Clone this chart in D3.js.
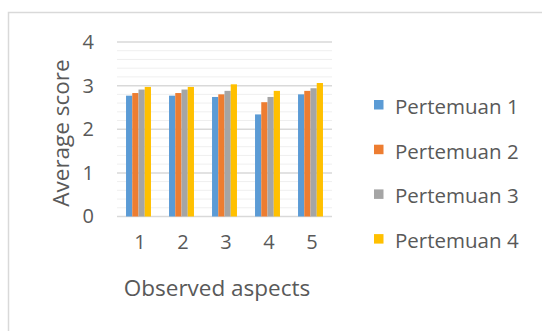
<!DOCTYPE html>
<html>
<head>
<meta charset="utf-8">
<script src="https://cdn.jsdelivr.net/npm/d3@7"></script>
<style>
  html, body { margin: 0; padding: 0; background: #fff; }
  svg { display: block; }
  text { font-family: "Open Sans", "Noto Sans", sans-serif; fill: #595959; }
</style>
</head>
<body>
<svg id="chart" width="542" height="331"></svg>
<script>
// Average observation score per aspect, for each meeting
const aspects = ["1", "2", "3", "4", "5"];
const seriesNames = ["Pertemuan 1", "Pertemuan 2", "Pertemuan 3", "Pertemuan 4"];
const pertemuan1 = [2.77, 2.77, 2.74, 2.34, 2.80];
const pertemuan2 = [2.83, 2.83, 2.80, 2.62, 2.88];
const pertemuan3 = [2.91, 2.91, 2.88, 2.74, 2.94];
const pertemuan4 = [2.97, 2.97, 3.03, 2.88, 3.06];
const yTicks = [0, 1, 2, 3, 4];
const colors = ["#5b9bd5", "#ed7d31", "#a5a5a5", "#ffc000"];

const seriesValues = [pertemuan1, pertemuan2, pertemuan3, pertemuan4];

const svg = d3.select("#chart");

// Outer chart frame
svg.append("rect")
  .attr("x", 8.5).attr("y", 12.5)
  .attr("width", 560).attr("height", 340)
  .attr("fill", "#fff")
  .attr("stroke", "#d9d9d9")
  .attr("stroke-width", 1.5);

const plot = { left: 117, right: 332, top: 42, bottom: 216.5 };

const x = d3.scaleBand()
  .domain(aspects)
  .range([plot.left, plot.right])
  .paddingInner(0.42)
  .paddingOuter(0.21);

const x1 = d3.scaleBand()
  .domain(d3.range(seriesNames.length))
  .range([0, x.bandwidth()]);

const y = d3.scaleLinear()
  .domain([0, 4])
  .range([plot.bottom, plot.top]);

// Minor gridlines every 0.2
const minor = d3.range(0, 4.0001, 0.2).filter(v => Math.abs(v - Math.round(v)) > 1e-6);
svg.append("g")
  .selectAll("line")
  .data(minor)
  .join("line")
  .attr("x1", plot.left).attr("x2", plot.right)
  .attr("y1", d => y(d)).attr("y2", d => y(d))
  .attr("stroke", "#efefef")
  .attr("stroke-width", 1);

// Major gridlines
svg.append("g")
  .selectAll("line")
  .data(yTicks)
  .join("line")
  .attr("x1", plot.left).attr("x2", plot.right)
  .attr("y1", d => y(d)).attr("y2", d => y(d))
  .attr("stroke", "#d9d9d9")
  .attr("stroke-width", 1.5);

// Bars
const groups = svg.append("g")
  .selectAll("g")
  .data(aspects)
  .join("g")
  .attr("transform", d => `translate(${x(d)},0)`);

groups.selectAll("rect")
  .data((d, i) => seriesValues.map((s, k) => ({ k, v: s[i] })))
  .join("rect")
  .attr("x", d => x1(d.k))
  .attr("width", x1.bandwidth())
  .attr("y", d => y(d.v))
  .attr("height", d => y(0) - y(d.v))
  .attr("fill", d => colors[d.k]);

// Y axis labels
const yAxis = d3.axisLeft(y).tickValues(yTicks).tickFormat(d3.format("d")).tickSize(0).tickPadding(0);
const yg = svg.append("g")
  .attr("transform", `translate(94,0)`)
  .call(yAxis);
yg.select(".domain").remove();
yg.selectAll("text")
  .attr("font-size", 20)
  .attr("fill", "#595959")
  .style("font-family", '"Open Sans", sans-serif');

// X axis labels
const xAxis = d3.axisBottom(x).tickSize(0).tickPadding(0);
const xg = svg.append("g")
  .attr("transform", `translate(1.5,235)`)
  .call(xAxis);
xg.select(".domain").remove();
xg.selectAll("text")
  .attr("font-size", 20)
  .attr("fill", "#595959")
  .style("font-family", '"Open Sans", sans-serif');

// Axis titles
svg.append("text")
  .attr("x", 217).attr("y", 296)
  .attr("text-anchor", "middle")
  .attr("font-size", 22.5)
  .text("Observed aspects");

svg.append("text")
  .attr("transform", "translate(69,133) rotate(-90)")
  .attr("text-anchor", "middle")
  .attr("font-size", 22.5)
  .text("Average score");

// Legend
const legend = svg.append("g")
  .selectAll("g")
  .data(seriesNames)
  .join("g")
  .attr("transform", (d, i) => `translate(374,${114 + i * 44.7})`);

legend.append("rect")
  .attr("x", 0).attr("y", -14)
  .attr("width", 9.5).attr("height", 9.5)
  .attr("fill", (d, i) => colors[i]);

legend.append("text")
  .attr("x", 21).attr("y", 0)
  .attr("font-size", 20.5)
  .text(d => d);
</script>
</body>
</html>
